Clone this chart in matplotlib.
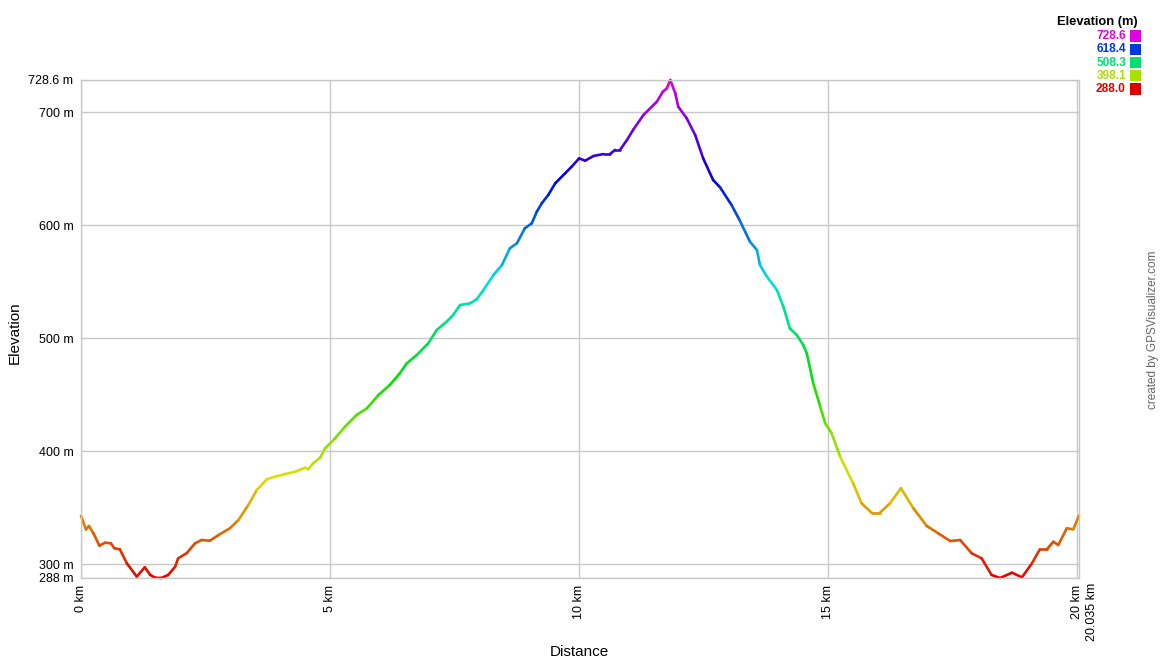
import numpy as np
import matplotlib
matplotlib.use("Agg")
import matplotlib.pyplot as plt
from matplotlib.collections import LineCollection
from matplotlib.patches import Rectangle
import colorsys

plt.rcParams['font.family'] = ['Liberation Sans', 'DejaVu Sans']

dist_km = [0.00,0.10,0.16,0.25,0.37,0.48,0.60,0.67,0.78,0.92,
           1.12,1.28,1.39,1.49,1.61,1.75,1.89,1.95,2.12,2.29,
           2.42,2.59,2.76,2.99,3.16,3.36,3.53,3.73,3.89,4.10,
           4.30,4.50,4.56,4.66,4.80,4.90,5.10,5.30,5.53,5.74,
           5.97,6.20,6.40,6.54,6.74,6.97,7.14,7.34,7.47,7.61,
           7.81,7.94,8.08,8.28,8.45,8.61,8.75,8.91,9.05,9.15,
           9.25,9.38,9.52,9.72,9.85,10.00,10.12,10.29,10.49,10.62,
           10.72,10.82,10.96,11.09,11.29,11.56,11.68,11.76,11.83,11.93,
           11.99,12.16,12.33,12.49,12.69,12.83,13.06,13.22,13.43,13.57,
           13.63,13.77,13.97,14.10,14.23,14.37,14.50,14.57,14.70,14.84,
           14.94,15.07,15.24,15.50,15.67,15.87,16.04,16.24,16.46,16.71,
           16.98,17.21,17.45,17.65,17.88,18.08,18.28,18.45,18.69,18.89,
           19.09,19.25,19.39,19.52,19.62,19.79,19.92,20.035]
elev_m = [343,331,334,327.5,316.6,319.2,318.7,314.3,313.4,301,
          289.2,297.5,290.7,288.3,288,290.7,298,305.4,309.9,318.7,
          321.6,321,326,332,339.3,352.6,365.9,375.3,377.6,380,
          382,385.6,384.2,389.5,394.5,402.7,411.6,421.9,432.2,438.1,
          449.9,458.8,469.1,477.9,485.3,495.6,507.4,514.8,520.7,529.5,
          531,534.5,542.8,556.1,564.9,579.7,584.1,597.4,601.8,612.1,
          619.5,626.9,637.2,646.1,651.9,659.3,657.2,661.4,663.1,663.1,
          666.7,666.7,675.5,684.9,697.6,709.4,718.2,721.2,728.6,716.8,
          705,694.7,679.9,659.3,640.1,633.6,618,604.7,585.5,578.2,
          564.9,554.6,542.8,528,508.9,503,494.1,486.8,460.3,439.6,
          424.9,416,395.3,371.8,354.1,345.8,345.8,354.1,367.4,349.7,
          334,327.5,320.7,321.6,309.9,305.4,290.7,288,292.7,288.6,
          301,313.4,313.4,320.1,317.2,332,331.1,343]

y_ticks = [288, 300, 400, 500, 600, 700, 728.6]
y_labels = ["288 m", "300 m", "400 m", "500 m", "600 m", "700 m", "728.6 m"]
x_ticks = [0, 5, 10, 15, 20]
x_labels = ["0 km", "5 km", "10 km", "15 km", "20 km"]
legend_vals = [728.6, 618.4, 508.3, 398.1, 288.0]

EMIN, EMAX = 288.0, 728.6
XMAX = 20.035

def ecolor(e):
    f = (e - EMIN) / (EMAX - EMIN)
    f = min(max(f, 0), 1)
    return colorsys.hsv_to_rgb(f * 300 / 360.0, 1.0, 0.88)

W, H = 1160, 660
fig = plt.figure(figsize=(W / 100, H / 100), dpi=100)
ax = fig.add_axes([81 / W, 1 - 578 / H, 998 / W, 498 / H])
ax.set_xlim(0, XMAX)
ax.set_ylim(EMIN, EMAX)

grid_c = '#c8c8c8'
for s in ax.spines.values():
    s.set_color(grid_c)
    s.set_linewidth(1)

ax.set_yticks(y_ticks)
ax.set_yticklabels(y_labels, fontsize=9)
ax.set_xticks(x_ticks)
ax.set_xticklabels(x_labels, fontsize=9, rotation=90)
ax.tick_params(axis='both', length=0)
ax.tick_params(axis='y', pad=5.5)
ax.tick_params(axis='x', pad=5)
ax.grid(True, color=grid_c, linewidth=1)
ax.set_axisbelow(True)

ax.annotate("20.035 km", xy=(XMAX, 0), xycoords=('data', 'axes fraction'),
            xytext=(9.5, -3.6), textcoords='offset points', rotation=90,
            ha='center', va='top', fontsize=9)

x = np.array(dist_km)
y = np.array(elev_m)
pts = np.column_stack([x, y]).reshape(-1, 1, 2)
segs = np.concatenate([pts[:-1], pts[1:]], axis=1)
cols = [ecolor((y[i] + y[i + 1]) / 2) for i in range(len(y) - 1)]
lc = LineCollection(segs, colors=cols, linewidths=1.9, capstyle='round', joinstyle='round')
lc.set_clip_on(False)
ax.add_collection(lc)

fig.text(15 / W, 1 - 333 / H, "Elevation", rotation=90, ha='center', va='center', fontsize=11)
fig.text(579 / W, 1 - 652 / H, "Distance", ha='center', va='center', fontsize=11)
fig.text(1153 / W, 1 - 330 / H, "created by GPSVisualizer.com", rotation=90,
         ha='center', va='center', fontsize=8.5, color='#666666')

# legend
fig.text(1138 / W, 1 - 21.5 / H, "Elevation (m)", ha='right', va='center',
         fontsize=9.3, fontweight='bold')
rows_y = [36, 49.3, 62.6, 75.9, 89]
for v, ry in zip(legend_vals, rows_y):
    c = ecolor(v)
    fig.text(1126 / W, 1 - ry / H, f"{v:.1f}", ha='right', va='center',
             fontsize=8.6, fontweight='bold', color=c)
    fig.patches.append(Rectangle((1130 / W, 1 - (ry + 5.5) / H), 11 / W, 11 / H,
                                 transform=fig.transFigure, facecolor=c, edgecolor='none'))

fig.savefig("out.png", dpi=100)
